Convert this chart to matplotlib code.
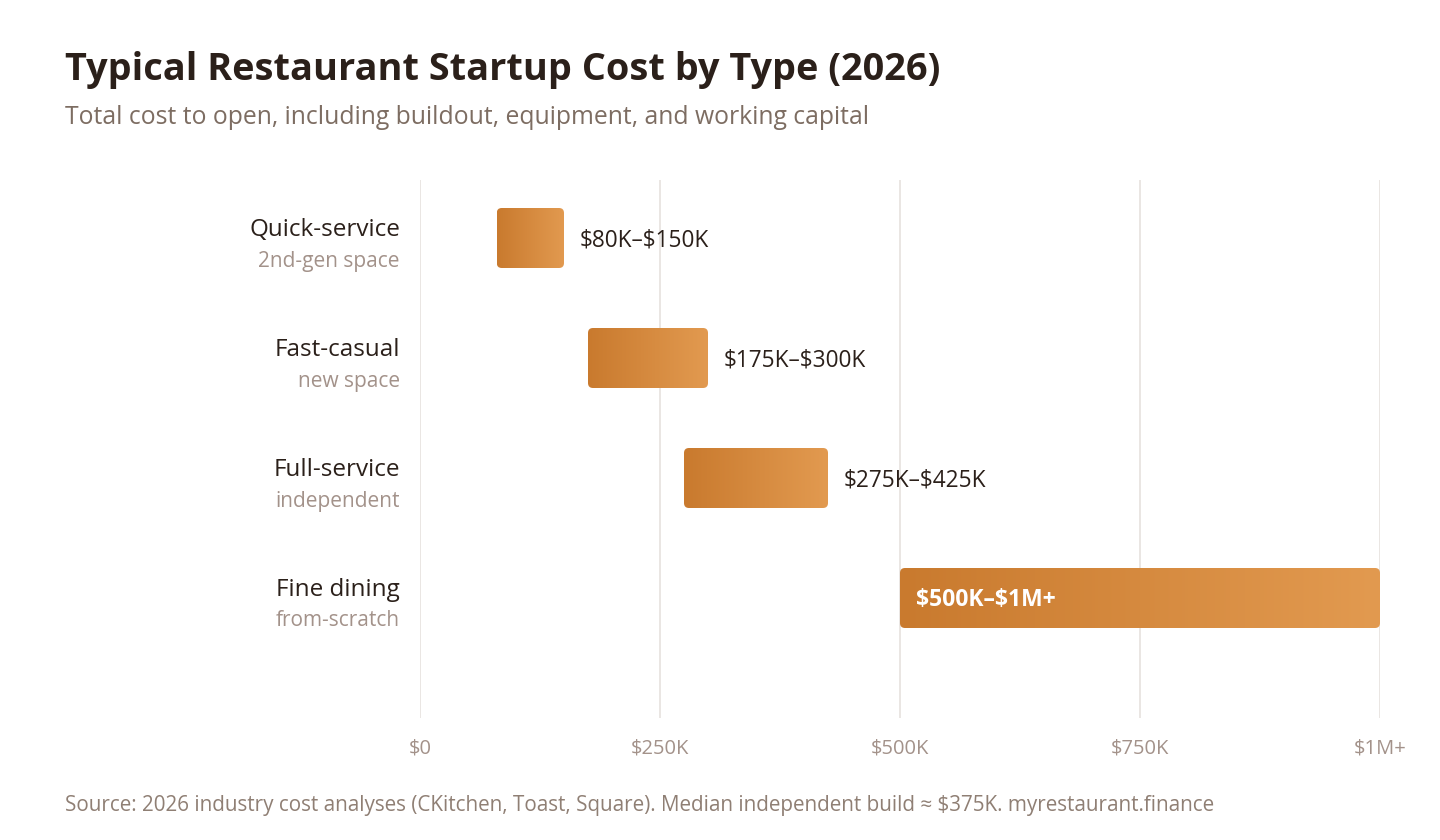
'''
restaurant startup cost ranges by type
'''
import matplotlib
matplotlib.use('Agg')
import matplotlib.pyplot as plt
import numpy as np
from matplotlib.patches import FancyBboxPatch
from matplotlib.colors import LinearSegmentedColormap

# data (thousands of dollars)
types = ['Quick-service', 'Fast-casual', 'Full-service', 'Fine dining']
subtypes = ['2nd-gen space', 'new space', 'independent', 'from-scratch']
low = [80, 175, 275, 500]
high = [150, 300, 425, 1000]
range_labels = ['$80K–$150K', '$175K–$300K', '$275K–$425K', '$500K–$1M+']
ticks = [0, 250, 500, 750, 1000]
tick_labels = ['$0', '$250K', '$500K', '$750K', '$1M+']

DARK = '#2b201a'
MUTED = '#7d6d62'
LIGHT = '#a3928a'
GRID = '#e8e4e0'
cmap = LinearSegmentedColormap.from_list('bar', ['#c97a2e', '#e29a50'])

plt.rcParams['font.family'] = ['Open Sans', 'DejaVu Sans']
plt.rcParams['text.parse_math'] = False

fig = plt.figure(figsize=(14.4, 8.4), dpi=100)
FW, FH = 1440, 840
ax = fig.add_axes([420/FW, 1-718/FH, 960/FW, (718-180)/FH])

xpx = 1000/960   # data units per pixel in x
ypx = 1/120      # data units per pixel in y
ax.set_xlim(0, 1000)
ax.set_ylim(4.0, -58/120)

for t in ticks:
    ax.axvline(t, color=GRID, lw=1.3, zorder=0)

h = 0.5
grad = np.linspace(0, 1, 256).reshape(1, -1)
for i in range(len(types)):
    x0, x1 = low[i], high[i]
    patch = FancyBboxPatch((x0, i-h/2), x1-x0, h,
                           boxstyle='round,pad=0,rounding_size=%g' % (5*xpx),
                           mutation_aspect=ypx/xpx, fc='none', ec='none', zorder=2)
    ax.add_patch(patch)
    im = ax.imshow(grad, cmap=cmap, aspect='auto', extent=(x0, x1, i+h/2, i-h/2),
                   zorder=2, interpolation='bicubic')
    im.set_clip_path(patch)
    if x1 - x0 > 300:
        ax.text(x0 + 16*xpx, i + 2*ypx, range_labels[i], color='white', fontsize=16.5,
                fontweight='bold', va='center', ha='left', zorder=3)
    else:
        ax.text(x1 + 16*xpx, i + 2*ypx, range_labels[i], color=DARK, fontsize=16.3,
                va='center', ha='left', zorder=3)
    ax.text(-20*xpx, i - 8*ypx, types[i], color=DARK, fontsize=17.5,
            ha='right', va='center')
    ax.text(-20*xpx, i + 23*ypx, subtypes[i], color=LIGHT, fontsize=15,
            ha='right', va='center')

ax.set_xticks(ticks)
ax.set_xticklabels(tick_labels, color=LIGHT, fontsize=14.5)
ax.tick_params(axis='x', length=0, pad=15)
ax.set_yticks([])
for s in ax.spines.values():
    s.set_visible(False)

fig.text(65/FW, 1-70/FH, 'Typical Restaurant Startup Cost by Type (2026)',
         fontsize=27.3, fontweight='bold', color=DARK, va='center', ha='left')
fig.text(65/FW, 1-118/FH, 'Total cost to open, including buildout, equipment, and working capital',
         fontsize=17.8, color=MUTED, va='center', ha='left')
fig.text(65/FW, 1-806/FH,
         'Source: 2026 industry cost analyses (CKitchen, Toast, Square). Median independent build ≈ $375K. myrestaurant.finance',
         fontsize=14.9, color='#8f7f74', va='center', ha='left')

fig.savefig('out.png', dpi=100, facecolor='white')
